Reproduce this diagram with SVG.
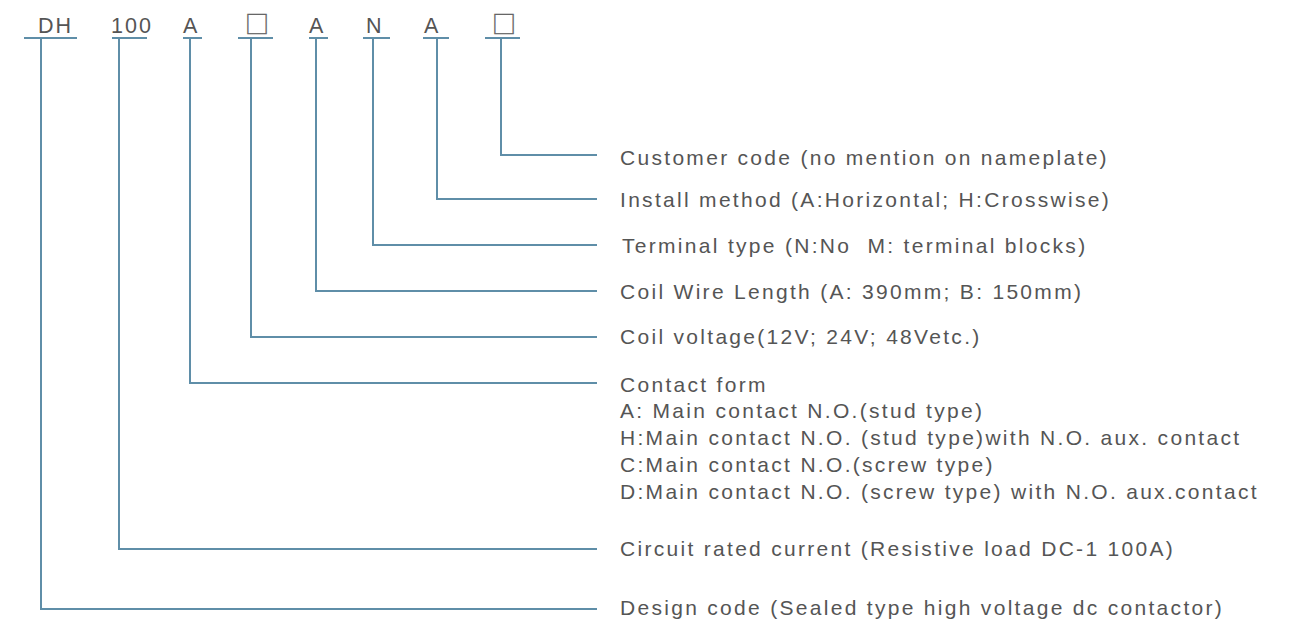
<svg xmlns="http://www.w3.org/2000/svg" width="1290" height="621" viewBox="0 0 1290 621">
<style>
.t{font-family:"Liberation Sans",Arial,sans-serif;font-size:21px;fill:#555;letter-spacing:2.3px}
.c{font-family:"Liberation Sans",Arial,sans-serif;font-size:21.5px;fill:#555;letter-spacing:2px}
.s{font-family:"Noto Sans CJK SC","DejaVu Sans",sans-serif;font-size:24px;fill:#666;stroke:#666;stroke-width:0.4}
.l{fill:none;stroke:#5f8ea8;stroke-width:2}
</style>
<rect width="1290" height="621" fill="#fff"/>
<g id="code">
<text class="c" x="38" y="33">DH</text>
<text class="c" x="111" y="33">100</text>
<text class="c" x="183" y="33">A</text>
<text class="s" x="245" y="33">□</text>
<text class="c" x="309" y="33">A</text>
<text class="c" x="366" y="33">N</text>
<text class="c" x="424" y="33">A</text>
<text class="s" x="492" y="33">□</text>
</g>
<g id="connectors">
<path class="l" d="M24 38H77M41 38V609H597"/>
<path class="l" d="M112 38H147M119 38V549H597"/>
<path class="l" d="M183 38H202M190 38V383H597"/>
<path class="l" d="M238 38H273M251 38V337H597"/>
<path class="l" d="M309 38H328M316 38V291H597"/>
<path class="l" d="M363 38H390M373 38V245H597"/>
<path class="l" d="M423 38H449M437 38V199H597"/>
<path class="l" d="M485 38H520M501 38V155H597"/>
</g>
<g id="customer"><text class="t" x="620" y="165">Customer code (no mention on nameplate)</text></g>
<g id="install"><text class="t" x="620" y="207">Install method (A:Horizontal; H:Crosswise)</text></g>
<g id="terminal"><text class="t" x="622" y="253" xml:space="preserve">Terminal type (N:No  M: terminal blocks)</text></g>
<g id="wire"><text class="t" x="620" y="299">Coil Wire Length (A: 390mm; B: 150mm)</text></g>
<g id="voltage"><text class="t" x="620" y="344">Coil voltage(12V; 24V; 48Vetc.)</text></g>
<g id="contact">
<text class="t" x="620" y="392">Contact form</text>
<text class="t" x="620" y="418">A: Main contact N.O.(stud type)</text>
<text class="t" x="620" y="445">H:Main contact N.O. (stud type)with N.O. aux. contact</text>
<text class="t" x="620" y="472">C:Main contact N.O.(screw type)</text>
<text class="t" x="620" y="499">D:Main contact N.O. (screw type) with N.O. aux.contact</text>
</g>
<g id="current"><text class="t" x="620" y="556">Circuit rated current (Resistive load DC-1 100A)</text></g>
<g id="design"><text class="t" x="620" y="615">Design code (Sealed type high voltage dc contactor)</text></g>
</svg>
